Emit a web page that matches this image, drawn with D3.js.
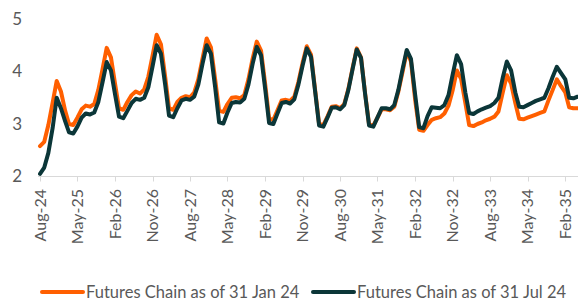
<!DOCTYPE html>
<html>
<head>
<meta charset="utf-8">
<script src="https://cdn.jsdelivr.net/npm/d3@7"></script>
<style>
    body { margin: 0; background: #fff; }
    svg text { font-family: Lato, "Liberation Sans", sans-serif; fill: #595959; }
</style>
</head>
<body>
<svg id="chart" width="578" height="301"></svg>
<script>
// ----- data (monthly, Aug-24 .. May-35)
var startYear = 2024, startMonth = 7; // Aug-24

var seriesNames = ["Futures Chain as of 31 Jan 24", "Futures Chain as of 31 Jul 24"];

var jan24Chain = [
    2.58, 2.66, 2.98, 3.40, 3.82, 3.62, 3.25, 3.00, 2.98, 3.12, 3.28, 3.35,
    3.33, 3.38, 3.65, 4.05, 4.45, 4.27, 3.75, 3.30, 3.27, 3.42, 3.55, 3.62,
    3.58, 3.66, 3.90, 4.30, 4.70, 4.52, 3.90, 3.30, 3.27, 3.42, 3.50, 3.53,
    3.51, 3.60, 3.85, 4.25, 4.63, 4.46, 3.85, 3.25, 3.23, 3.38, 3.50, 3.51,
    3.49, 3.55, 3.85, 4.25, 4.57, 4.40, 3.75, 3.10, 3.08, 3.26, 3.45, 3.46,
    3.44, 3.52, 3.80, 4.17, 4.48, 4.32, 3.63, 3.00, 2.98, 3.14, 3.33, 3.34,
    3.30, 3.38, 3.67, 4.07, 4.44, 4.27, 3.56, 2.99, 2.97, 3.12, 3.28, 3.28,
    3.26, 3.33, 3.62, 4.00, 4.38, 4.19, 3.45, 2.89, 2.87, 2.98, 3.08, 3.11,
    3.13, 3.20, 3.35, 3.65, 4.02, 3.86, 3.40, 2.98, 2.96, 3.00, 3.03, 3.07,
    3.10, 3.14, 3.24, 3.60, 3.93, 3.77, 3.40, 3.10, 3.09, 3.12, 3.15, 3.18,
    3.21, 3.24, 3.45, 3.65, 3.85, 3.72, 3.60, 3.32, 3.30, 3.30
];

var jul24Chain = [
    2.05, 2.17, 2.45, 2.92, 3.50, 3.30, 3.05, 2.84, 2.82, 2.95, 3.12, 3.20,
    3.18, 3.22, 3.42, 3.80, 4.18, 4.02, 3.55, 3.14, 3.11, 3.25, 3.40, 3.48,
    3.46, 3.50, 3.70, 4.10, 4.50, 4.34, 3.75, 3.16, 3.13, 3.30, 3.45, 3.48,
    3.46, 3.52, 3.75, 4.15, 4.50, 4.34, 3.70, 3.03, 3.01, 3.22, 3.40, 3.42,
    3.41, 3.48, 3.75, 4.15, 4.47, 4.31, 3.65, 3.02, 3.00, 3.20, 3.40, 3.42,
    3.39, 3.47, 3.75, 4.12, 4.44, 4.28, 3.60, 2.97, 2.95, 3.12, 3.31, 3.32,
    3.28, 3.36, 3.65, 4.05, 4.42, 4.26, 3.55, 2.97, 2.95, 3.12, 3.30, 3.30,
    3.28, 3.36, 3.65, 4.05, 4.41, 4.24, 3.55, 2.94, 2.92, 3.15, 3.32, 3.31,
    3.30, 3.36, 3.55, 3.95, 4.31, 4.14, 3.60, 3.21, 3.19, 3.24, 3.28, 3.31,
    3.34, 3.40, 3.50, 3.88, 4.19, 4.02, 3.60, 3.33, 3.32, 3.36, 3.40, 3.44,
    3.47, 3.50, 3.68, 3.90, 4.09, 3.97, 3.85, 3.50, 3.49, 3.52
];

var yTicks = [2, 3, 4, 5];
var tickEvery = 9; // label every 9th month: Aug-24, May-25, Feb-26 ...

var colors = ["#ff5f00", "#0b3638"];

// ----- build dates
var dates = jan24Chain.map(function (d, i) {
    return new Date(startYear, startMonth + i, 1);
});

var svg = d3.select("#chart");

var x = d3.scaleTime()
    .domain([dates[0], dates[dates.length - 1]])
    .range([40, 577.5]);

var y = d3.scaleLinear()
    .domain([2, 5])
    .range([176.5, 19]);

var fmt = d3.timeFormat("%b-%y");

// x axis line + ticks
var tickDates = dates.filter(function (d, i) { return i % tickEvery == 0; });

svg.append("line")
    .attr("x1", 38).attr("x2", 578)
    .attr("y1", y(2)).attr("y2", y(2))
    .attr("stroke", "#d9d9d9").attr("stroke-width", 1);

svg.selectAll(".xtick")
    .data(tickDates)
    .enter().append("line")
    .attr("class", "xtick")
    .attr("x1", function (d) { return Math.round(x(d)) + 0.5; })
    .attr("x2", function (d) { return Math.round(x(d)) + 0.5; })
    .attr("y1", y(2)).attr("y2", y(2) + 5)
    .attr("stroke", "#d9d9d9");

svg.selectAll(".xlabel")
    .data(tickDates)
    .enter().append("text")
    .attr("class", "xlabel")
    .attr("transform", function (d) { return "translate(" + x(d) + ",189) rotate(-90)"; })
    .attr("text-anchor", "end")
    .attr("dy", "0.35em")
    .style("font-size", "16px")
    .text(function (d) { return fmt(d); });

// y labels (no axis line in the original)
svg.selectAll(".ylabel")
    .data(yTicks)
    .enter().append("text")
    .attr("class", "ylabel")
    .attr("x", 22)
    .attr("y", function (d) { return y(d); })
    .attr("dy", "0.35em")
    .attr("text-anchor", "end")
    .style("font-size", "17px")
    .text(function (d) { return d; });

// lines
var line = d3.line()
    .x(function (d, i) { return x(dates[i]); })
    .y(function (d) { return y(d); });

[jan24Chain, jul24Chain].forEach(function (series, k) {
    svg.append("path")
        .datum(series)
        .attr("fill", "none")
        .attr("stroke", colors[k])
        .attr("stroke-width", 4)
        .attr("stroke-linejoin", "round")
        .attr("stroke-linecap", "round")
        .attr("d", line);
});

// legend
var legendX = [42, 313];
seriesNames.forEach(function (name, k) {
    var g = svg.append("g").attr("transform", "translate(" + legendX[k] + ",292)");
    g.append("line")
        .attr("x1", 0).attr("x2", 41)
        .attr("stroke", colors[k])
        .attr("stroke-width", 4)
        .attr("stroke-linecap", "round");
    g.append("text")
        .attr("x", 44)
        .attr("dy", "0.35em")
        .style("font-size", "16.5px")
        .text(name);
});
</script>
</body>
</html>
